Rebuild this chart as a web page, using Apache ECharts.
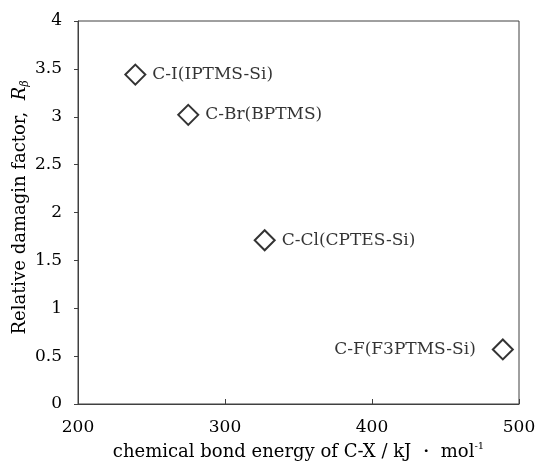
<!DOCTYPE html>
<html>
<head>
<meta charset="utf-8">
<script src="https://cdn.jsdelivr.net/npm/echarts@6/dist/echarts.min.js"></script>
<style>
  html, body { margin: 0; padding: 0; background: #fff; }
  #chart { width: 537px; height: 469px; }
</style>
</head>
<body>
<div id="chart"></div>
<script>
// values
const compounds = ['C-I(IPTMS-Si)', 'C-Br(BPTMS)', 'C-Cl(CPTES-Si)', 'C-F(F3PTMS-Si)']
const bondEnergy = [239, 275, 327, 489]
const dampingFactor = [3.44, 3.02, 1.71, 0.57]

const serif = '"DejaVu Serif", "Liberation Serif", serif'

const chart = echarts.init(document.getElementById('chart'))

const points = bondEnergy.map((x, i) => {
  const item = { name: compounds[i], value: [x, dampingFactor[i]] }
  // the last label sits left of its marker
  if (i === bondEnergy.length - 1) {
    item.label = { position: 'left', distance: 16 }
  }
  return item
})

chart.setOption({
  animation: false,
  backgroundColor: '#fff',
  textStyle: { fontFamily: serif },
  grid: {
    left: 78,
    right: 18,
    top: 21,
    bottom: 65,
    containLabel: false,
    outerBoundsMode: 'none',
    show: true,
    borderColor: '#404040',
    borderWidth: 1
  },
  xAxis: {
    type: 'value',
    min: 200,
    max: 500,
    interval: 100,
    name: '{t|chemical bond energy of C‐X / kJ ・ mol}{s|-1}',
    nameLocation: 'middle',
    nameGap: 37,
    nameMoveOverlap: false,
    nameTextStyle: {
      rich: {
        t: { fontSize: 18, color: '#000', fontFamily: serif, lineHeight: 22 },
        s: { fontSize: 10, color: '#000', fontFamily: serif, verticalAlign: 'top', lineHeight: 11 }
      }
    },
    axisLine: { lineStyle: { color: '#404040', width: 1 } },
    axisTick: { inside: true, length: 5, lineStyle: { color: '#404040' } },
    splitLine: { show: false },
    axisLabel: { color: '#000', fontSize: 17, fontFamily: serif, margin: 15 }
  },
  yAxis: {
    type: 'value',
    min: 0,
    max: 4,
    interval: 0.5,
    name: '{t|Relative damagin factor,  }{i|R}{s|β}',
    nameLocation: 'middle',
    nameRotate: 90,
    nameGap: 47,
    nameMoveOverlap: false,
    nameTextStyle: {
      padding: [0, 0, 0, 10],
      rich: {
        t: { fontSize: 18, color: '#000', fontFamily: serif, lineHeight: 22 },
        i: { fontSize: 18, color: '#000', fontFamily: serif, fontStyle: 'italic', lineHeight: 22 },
        s: { fontSize: 11, color: '#000', fontFamily: serif, fontStyle: 'italic', verticalAlign: 'bottom', lineHeight: 11 }
      }
    },
    axisLine: { show: true, lineStyle: { color: '#404040', width: 1 } },
    axisTick: { show: true, length: 4, lineStyle: { color: '#404040' } },
    splitLine: { show: false },
    axisLabel: { color: '#000', fontSize: 17, fontFamily: serif, margin: 16 }
  },
  series: [{
    type: 'scatter',
    data: points,
    symbol: 'diamond',
    symbolSize: 20,
    itemStyle: {
      color: '#fff',
      borderColor: '#000',
      borderWidth: 2
    },
    label: {
      show: true,
      formatter: '{b}',
      position: 'right',
      distance: 6,
      color: '#000',
      fontSize: 17,
      fontFamily: serif
    }
  }]
})
</script>
</body>
</html>
